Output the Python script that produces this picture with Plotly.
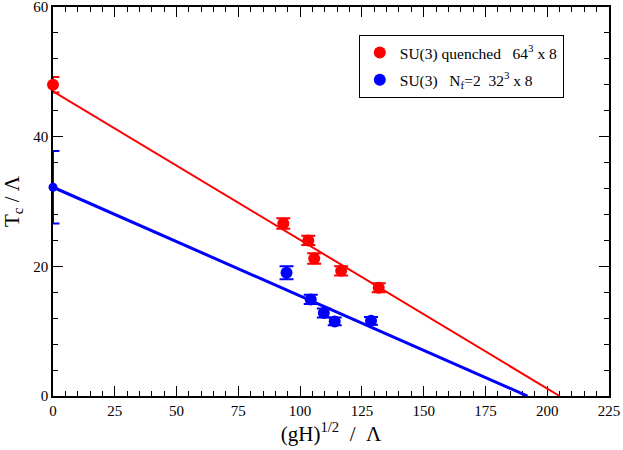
import plotly.graph_objects as go

# Data
red_x = [93.2, 103.3, 105.7, 116.6, 131.8]
red_y = [26.6, 24.0, 21.2, 19.3, 16.7]
red_err = [0.8, 0.7, 0.8, 0.7, 0.7]

blue_x = [94.5, 104.3, 109.6, 114.0, 128.7]
blue_y = [19.0, 14.9, 12.8, 11.5, 11.6]
blue_err = [1.0, 0.7, 0.7, 0.6, 0.6]

red_x0 = 0.0
red_y0 = 48.0
red_err0 = 1.2

blue_x0 = 0.0
blue_y0 = 32.2
blue_err0 = 5.6

cap_len = 2.6  # half-cap length in x units (only the right half is visible)

red_fit_x = [0.0, 205.0]
red_fit_y = [47.0, 0.0]
blue_fit_x = [0.0, 192.0]
blue_fit_y = [32.2, 0.0]

x_ticks = [0, 25, 50, 75, 100, 125, 150, 175, 200, 225]
y_ticks = [0, 20, 40, 60]

RED = "#ff0000"
BLUE = "#0000ff"
FONT = "Liberation Serif"
NB = "\u00a0"


def bracket(x0, y0, e):
    xs = [x0 + cap_len, x0, x0, x0 + cap_len]
    ys = [y0 + e, y0 + e, y0 - e, y0 - e]
    return xs, ys


fig = go.Figure()

# fit lines
fig.add_trace(go.Scatter(x=red_fit_x, y=red_fit_y, mode="lines",
                         line=dict(color=RED, width=2), showlegend=False, hoverinfo="skip"))
fig.add_trace(go.Scatter(x=blue_fit_x, y=blue_fit_y, mode="lines",
                         line=dict(color=BLUE, width=3), showlegend=False, hoverinfo="skip"))

# extrapolated points at x=0 with half error-bar brackets
bx, by = bracket(red_x0, red_y0, red_err0)
fig.add_trace(go.Scatter(x=bx, y=by, mode="lines", line=dict(color=RED, width=2),
                         showlegend=False, hoverinfo="skip"))
fig.add_trace(go.Scatter(x=[red_x0], y=[red_y0], mode="markers",
                         marker=dict(color=RED, size=12),
                         cliponaxis=False, showlegend=False))
bx, by = bracket(blue_x0, blue_y0, blue_err0)
fig.add_trace(go.Scatter(x=bx, y=by, mode="lines", line=dict(color=BLUE, width=2),
                         showlegend=False, hoverinfo="skip"))
fig.add_trace(go.Scatter(x=[blue_x0], y=[blue_y0], mode="markers",
                         marker=dict(color=BLUE, size=9),
                         cliponaxis=False, showlegend=False))

# data points
fig.add_trace(go.Scatter(
    x=red_x, y=red_y, mode="markers",
    marker=dict(color=RED, size=12),
    error_y=dict(type="data", array=red_err, color=RED, thickness=2, width=7),
    legendgroup="a",
    name=f"SU(3) quenched{NB}{NB}{NB}64<sup>3</sup> x 8"))
fig.add_trace(go.Scatter(
    x=blue_x, y=blue_y, mode="markers",
    marker=dict(color=BLUE, size=12),
    error_y=dict(type="data", array=blue_err, color=BLUE, thickness=2, width=7),
    legendgroup="b",
    name=f"SU(3){NB}{NB}{NB}N<sub>f</sub>=2{NB}{NB}32<sup>3</sup> x 8"))

axis_common = dict(
    showgrid=False, zeroline=False, showline=True, linecolor="black", linewidth=1.5,
    mirror="ticks", ticks="inside", ticklen=10, tickwidth=1, tickcolor="black",
    tickfont=dict(family=FONT, size=15, color="black"), automargin=False,
    layer="below traces", ticklabeloverflow="allow",
)

fig.update_xaxes(range=[0, 225], tickvals=x_ticks, ticktext=[str(v) for v in x_ticks],
                 minor=dict(ticks="inside", ticklen=5, dtick=5, tick0=0, tickcolor="black", tickwidth=1),
                 title=dict(text="(gH)<sup>1/2</sup>" + NB * 2 + "/" + NB * 2 + "Λ",
                            font=dict(family=FONT, size=21, color="black"), standoff=7),
                 **axis_common)
fig.update_yaxes(range=[0, 60], tickvals=y_ticks, ticktext=[str(v) for v in y_ticks],
                 minor=dict(ticks="inside", ticklen=5, dtick=4, tick0=0, tickcolor="black", tickwidth=1),
                 title=dict(text="T<sub>c</sub> / Λ",
                            font=dict(family=FONT, size=21, color="black"), standoff=8),
                 **axis_common)

fig.update_layout(
    width=623, height=450,
    margin=dict(l=53, r=14, t=7, b=54),
    paper_bgcolor="white", plot_bgcolor="white",
    font=dict(family=FONT, color="black"),
    legend=dict(x=0.55, y=0.928, xanchor="left", yanchor="top",
                bordercolor="black", borderwidth=1, bgcolor="white",
                font=dict(family=FONT, size=15.5, color="black"),
                itemsizing="constant", tracegroupgap=4),
)

# remove the browser's default 8px body margin so the figure sits at the page corner
fig.write_html("out.html", config={"displayModeBar": False},
               post_script="document.body.style.margin='0px';")
